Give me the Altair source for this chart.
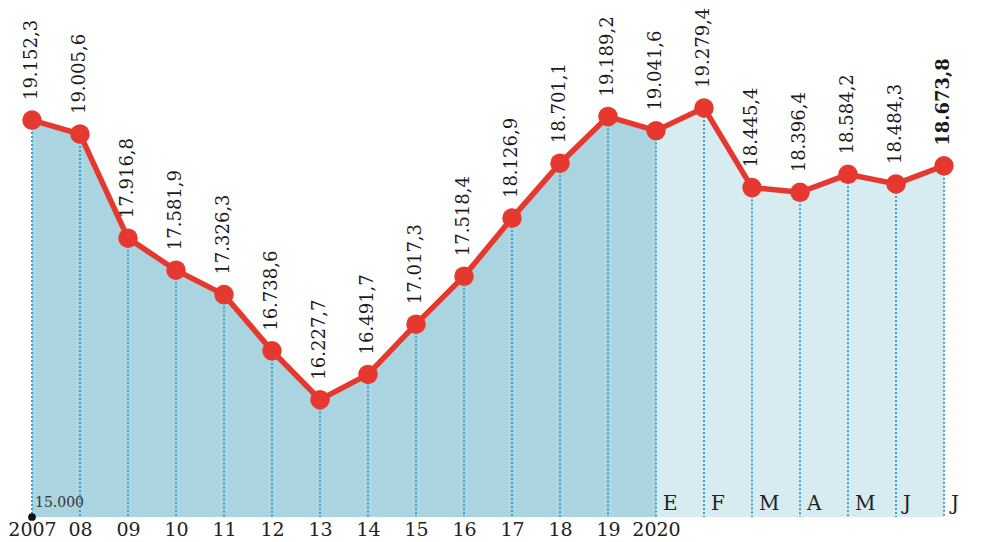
import altair as alt
import pandas as pd

# ---- data ----
periods = ["2007", "08", "09", "10", "11", "12", "13", "14", "15", "16", "17", "18", "19",
           "E", "F", "M", "A", "M", "J", "J"]
values = [19152.3, 19005.6, 17916.8, 17581.9, 17326.3, 16738.6, 16227.7, 16491.7, 17017.3,
          17518.4, 18126.9, 18701.1, 19189.2,
          19041.6, 19279.4, 18445.4, 18396.4, 18584.2, 18484.3, 18673.8]
value_labels = ["19.152,3", "19.005,6", "17.916,8", "17.581,9", "17.326,3", "16.738,6", "16.227,7",
                "16.491,7", "17.017,3", "17.518,4", "18.126,9", "18.701,1", "19.189,2",
                "19.041,6", "19.279,4", "18.445,4", "18.396,4", "18.584,2", "18.484,3", "18.673,8"]
year_ticks = ["2007", "08", "09", "10", "11", "12", "13", "14", "15", "16", "17", "18", "19", "2020"]
month_ticks = ["E", "F", "M", "A", "M", "J", "J"]
baseline_value = 15000
baseline_label = "15.000"

n_years = 13  # 2007..2019, then 2020 months

df = pd.DataFrame({
    "idx": list(range(len(values))),
    "value": values,
    "label": value_labels,
    "period": periods,
})
df["base"] = baseline_value

annual = df[df.idx <= n_years]
monthly = df[df.idx >= n_years]
months_df = df[df.idx >= n_years].copy()
months_df["month"] = month_ticks

FONT = "DejaVu Serif"
RED = "#e5382f"

xscale = alt.Scale(domain=[0, len(values) - 1], nice=False, zero=False)
yscale = alt.Scale(domain=[15000, 20000], nice=False, zero=False)

label_expr = "[" + ",".join("'" + t + "'" for t in year_ticks) + "][datum.value]"

X = alt.X("idx:Q", scale=xscale,
          axis=alt.Axis(values=list(range(len(year_ticks))), labelExpr=label_expr,
                        domain=False, ticks=False, grid=False, title=None,
                        labelFont=FONT, labelFontSize=19, labelColor="#222",
                        labelPadding=3, labelFlush=False, labelOverlap=False))
Y = alt.Y("value:Q", scale=yscale, axis=None)

base = alt.Chart(df)

area_dark = alt.Chart(annual).mark_area(color="#aad4df", opacity=1).encode(
    x=X, y=Y, y2="base:Q")
area_light = alt.Chart(monthly).mark_area(color="#d6ecf1", opacity=1).encode(
    x=X, y=Y, y2="base:Q")

rules = base.mark_rule(color="#3d9fcc", strokeDash=[2, 2], strokeWidth=2).encode(
    x=X, y=Y, y2="base:Q")

line = base.mark_line(color=RED, strokeWidth=5.5).encode(x=X, y=Y)
points = base.mark_circle(color=RED, size=380, opacity=1).encode(x=X, y=Y)

labels = alt.Chart(df[df.idx < len(values) - 1]).mark_text(
    angle=270, align="left", baseline="middle", dx=20, font=FONT, fontSize=18, color="#1a1a1a"
).encode(x=X, y=Y, text="label:N")

last_label = alt.Chart(df[df.idx == len(values) - 1]).mark_text(
    angle=270, align="left", baseline="middle", dx=20, font=FONT, fontSize=18,
    fontWeight="bold", color="#1a1a1a"
).encode(x=X, y=Y, text="label:N")

month_labels = alt.Chart(months_df).mark_text(
    align="left", baseline="bottom", dx=7, dy=-3, font=FONT, fontSize=20, color="#222"
).encode(x=X, y=alt.Y("base:Q", scale=yscale, axis=None), text="month:N")

base_dot = alt.Chart(df[df.idx == 0]).mark_circle(color="#111", size=60, opacity=1).encode(
    x=X, y=alt.Y("base:Q", scale=yscale, axis=None))
base_text = alt.Chart(df[df.idx == 0]).mark_text(
    align="left", baseline="bottom", dx=3, dy=-7, font=FONT, fontSize=14, color="#333"
).encode(x=X, y=alt.Y("base:Q", scale=yscale, axis=None), text=alt.value(baseline_label))

chart = alt.layer(
    area_dark, area_light, rules, line, points, labels, last_label,
    month_labels, base_dot, base_text
).properties(
    width=912, height=478,
    padding={"left": 24, "top": 31, "right": 30, "bottom": 26},
    autosize="none",
).configure(
    background="white",
    view=alt.ViewConfig(stroke="transparent", strokeWidth=0),
)

chart.save("out.html", embed_options={"renderer": "svg", "actions": False})
